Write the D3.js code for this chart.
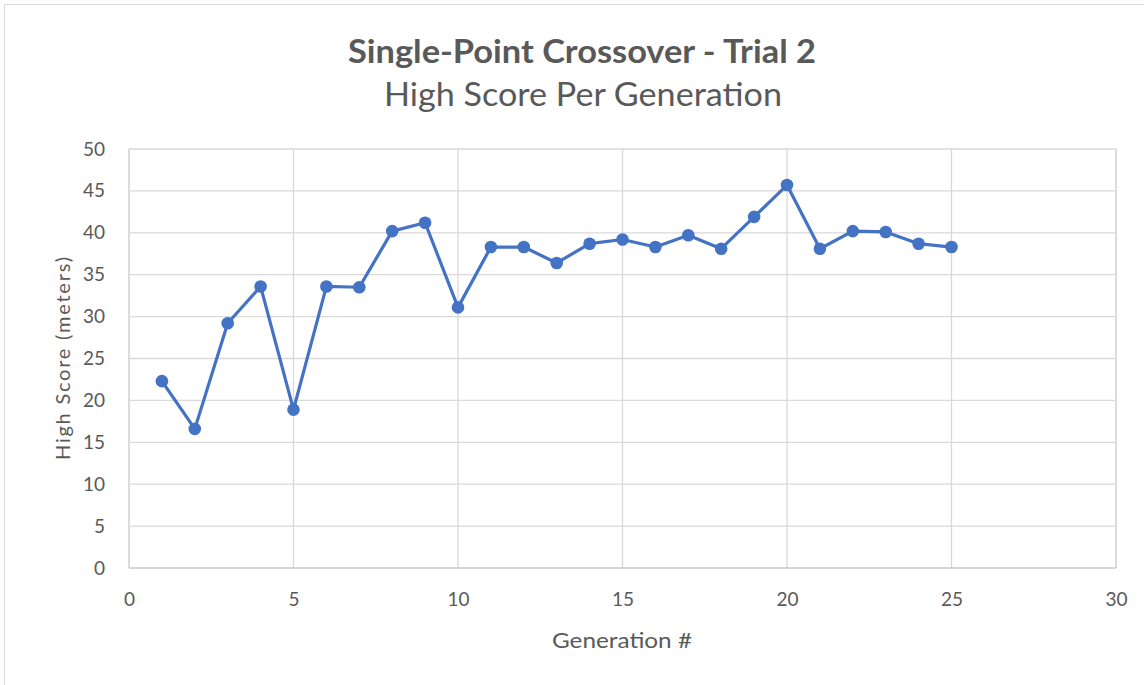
<!DOCTYPE html>
<html>
<head>
<meta charset="utf-8">
<script src="https://cdn.jsdelivr.net/npm/d3@7"></script>
<style>
  body { margin: 0; background: #fff; }
  text { font-family: Lato, "Open Sans", sans-serif; fill: #595959; }
</style>
</head>
<body>
<svg id="chart" width="1144" height="685"></svg>
<script>
// generation number and best score of that generation
var generations = [1,2,3,4,5,6,7,8,9,10,11,12,13,14,15,16,17,18,19,20,21,22,23,24,25];
var high_scores = [22.3,16.6,29.2,33.6,18.9,33.6,33.5,40.2,41.2,31.1,38.3,38.3,36.4,38.7,39.2,38.3,39.7,38.1,41.9,45.7,38.1,40.2,40.1,38.7,38.3];
var x_ticks = [0,5,10,15,20,25,30];
var y_ticks = [0,5,10,15,20,25,30,35,40,45,50];

var width = 1144,
    height = 685,
    margins = {left: 129, right: 28, top: 149, bottom: 117};

var svg = d3.select("#chart");

// outer chart border (right and bottom edges fall outside the picture)
svg.append("rect")
    .attr("x", 4.5).attr("y", 4.5)
    .attr("width", width + 10).attr("height", height + 10)
    .attr("fill", "none")
    .attr("stroke", "#d9d9d9");

var x = d3.scaleLinear().domain([0, 30]).range([margins.left, width - margins.right]);
var y = d3.scaleLinear().domain([0, 50]).range([height - margins.bottom, margins.top]);

//gridlines
svg.append("g").selectAll("line")
    .data(x_ticks)
    .join("line")
    .attr("x1", d => x(d)).attr("x2", d => x(d))
    .attr("y1", y(0)).attr("y2", y(50))
    .attr("stroke", d => (d === 0 || d === 30) ? "#c8c8c8" : "#d9d9d9")
    .attr("stroke-width", 1.3);

svg.append("g").selectAll("line")
    .data(y_ticks)
    .join("line")
    .attr("x1", x(0)).attr("x2", x(30))
    .attr("y1", d => y(d)).attr("y2", d => y(d))
    .attr("stroke", d => d === 0 ? "#c8c8c8" : "#d9d9d9")
    .attr("stroke-width", 1.3);

//axes (labels only)
var x_axis = svg.append("g")
    .attr("transform", "translate(0," + (y(0) + 21) + ")")
    .call(d3.axisBottom(x).tickValues(x_ticks).tickSize(0));
var y_axis = svg.append("g")
    .attr("transform", "translate(" + (x(0) - 21) + ",0)")
    .call(d3.axisLeft(y).tickValues(y_ticks).tickSize(0));

[x_axis, y_axis].forEach(function(a){
    a.select(".domain").remove();
    a.selectAll("text")
        .attr("font-family", "Lato, 'Open Sans', sans-serif")
        .attr("font-size", 19)
        .attr("fill", "#595959");
});

//series
var line = d3.line()
    .x((d, i) => x(generations[i]))
    .y(d => y(d));

svg.append("path")
    .datum(high_scores)
    .attr("d", line)
    .attr("fill", "none")
    .attr("stroke", "#4472C4")
    .attr("stroke-width", 3.2)
    .attr("stroke-linejoin", "round");

svg.append("g").selectAll("circle")
    .data(high_scores)
    .join("circle")
    .attr("cx", (d, i) => x(generations[i]))
    .attr("cy", d => y(d))
    .attr("r", 6.3)
    .attr("fill", "#4472C4");

//titles
svg.append("text")
    .attr("x", 582).attr("y", 63)
    .attr("text-anchor", "middle")
    .attr("font-size", 32)
    .attr("font-weight", "bold")
    .attr("textLength", 468)
    .attr("lengthAdjust", "spacingAndGlyphs")
    .text("Single-Point Crossover - Trial 2");

svg.append("text")
    .attr("x", 583).attr("y", 106)
    .attr("text-anchor", "middle")
    .attr("font-size", 32)
    .attr("textLength", 398)
    .attr("lengthAdjust", "spacingAndGlyphs")
    .text("High Score Per Generation");

svg.append("text")
    .attr("x", 622).attr("y", 648)
    .attr("text-anchor", "middle")
    .attr("font-size", 21)
    .attr("textLength", 140)
    .attr("lengthAdjust", "spacingAndGlyphs")
    .text("Generation #");

svg.append("text")
    .attr("transform", "translate(70," + y(25) + ") rotate(-90)")
    .attr("text-anchor", "middle")
    .attr("font-size", 20)
    .attr("textLength", 203)
    .attr("lengthAdjust", "spacing")
    .text("High Score (meters)");
</script>
</body>
</html>
